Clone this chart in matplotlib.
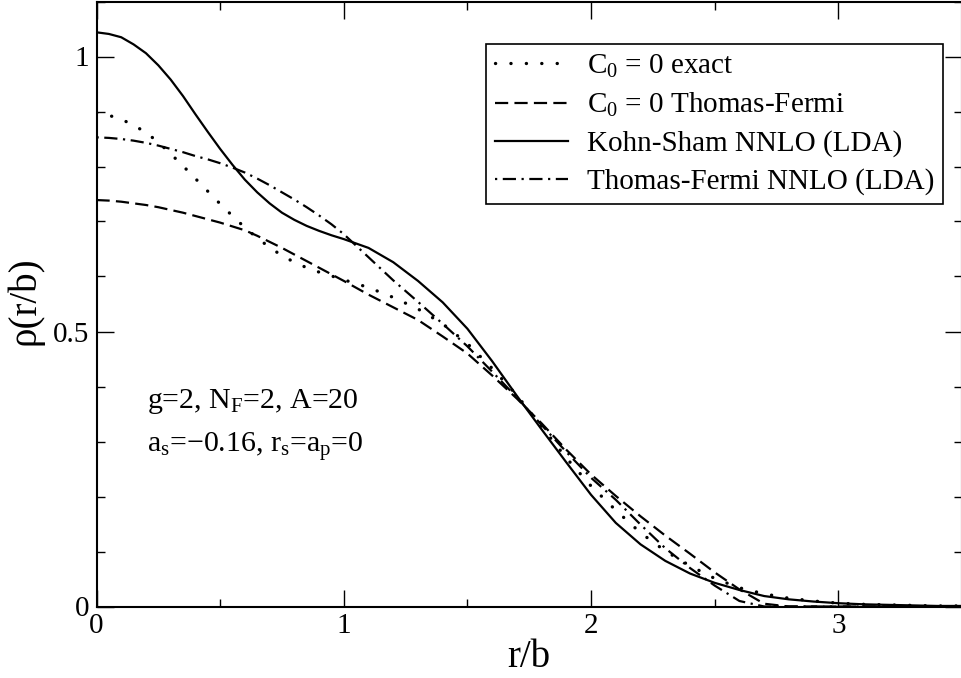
import matplotlib
matplotlib.use("Agg")
import matplotlib.pyplot as plt
from matplotlib.ticker import MultipleLocator

plt.rcParams["font.family"] = ["Liberation Serif", "DejaVu Serif"]
plt.rcParams["mathtext.fontset"] = "custom"
plt.rcParams["mathtext.rm"] = "Liberation Serif"
plt.rcParams["mathtext.it"] = "Liberation Serif:italic"
plt.rcParams["lines.scale_dashes"] = False

# radial coordinate r/b
r = [0.0, 0.05, 0.1, 0.15, 0.2, 0.25, 0.3, 0.35, 0.4, 0.45,
     0.5, 0.55, 0.6, 0.65, 0.7, 0.75, 0.8, 0.85, 0.9, 0.95,
     1.0, 1.1, 1.2, 1.3, 1.4, 1.5, 1.6, 1.7, 1.8, 1.9,
     2.0, 2.1, 2.2, 2.3, 2.4, 2.5, 2.6, 2.7, 2.8, 2.9,
     3.0, 3.1, 3.2, 3.3, 3.4, 3.5]

# density profiles rho(r/b)
rho_exact = [0.897, 0.893, 0.886, 0.875, 0.862, 0.844, 0.823, 0.801, 0.778, 0.755,
             0.732, 0.710, 0.689, 0.670, 0.653, 0.638, 0.626, 0.616, 0.608, 0.601,
             0.594, 0.580, 0.562, 0.541, 0.514, 0.478, 0.433, 0.384, 0.327, 0.270,
             0.219, 0.175, 0.134, 0.101, 0.074, 0.051, 0.034, 0.023, 0.015, 0.010,
             0.006, 0.004, 0.003, 0.002, 0.001, 0.001]
rho_tf_c0 = [0.739, 0.738, 0.736, 0.733, 0.730, 0.726, 0.721, 0.716, 0.710, 0.704,
             0.698, 0.691, 0.684, 0.674, 0.663, 0.652, 0.640, 0.628, 0.616, 0.604,
             0.592, 0.567, 0.544, 0.521, 0.491, 0.460, 0.420, 0.378, 0.333, 0.285,
             0.240, 0.201, 0.164, 0.129, 0.096, 0.062, 0.031, 0.005, 0.0, 0.0,
             0.0, 0.0, 0.0, 0.0, 0.0, 0.0]
rho_ks = [1.044, 1.041, 1.035, 1.022, 1.006, 0.984, 0.958, 0.928, 0.895, 0.863,
          0.832, 0.803, 0.776, 0.753, 0.733, 0.716, 0.703, 0.692, 0.683, 0.675,
          0.668, 0.652, 0.626, 0.592, 0.553, 0.505, 0.446, 0.383, 0.322, 0.262,
          0.203, 0.152, 0.113, 0.083, 0.060, 0.043, 0.030, 0.019, 0.013, 0.009,
          0.006, 0.004, 0.003, 0.002, 0.001, 0.001]
rho_tf_nnlo = [0.853, 0.852, 0.850, 0.847, 0.843, 0.838, 0.832, 0.826, 0.819, 0.813,
               0.806, 0.798, 0.789, 0.778, 0.766, 0.753, 0.740, 0.726, 0.711, 0.695,
               0.677, 0.635, 0.593, 0.554, 0.514, 0.473, 0.427, 0.380, 0.330, 0.281,
               0.234, 0.194, 0.149, 0.106, 0.070, 0.038, 0.010, 0.0, 0.0, 0.0,
               0.0, 0.0, 0.0, 0.0, 0.0, 0.0]

labels = [r"C$_{0}$ = 0 exact",
          r"C$_{0}$ = 0 Thomas-Fermi",
          "Kohn-Sham NNLO (LDA)",
          "Thomas-Fermi NNLO (LDA)"]

W, H = 961, 678
fig = plt.figure(figsize=(W / 100, H / 100), dpi=100)
x0, x1 = 96.5, 962.0
y0, y1 = 606.5, 1.5
ax = fig.add_axes([x0 / W, (H - y0) / H, (x1 - x0) / W, (y0 - y1) / H])

lw = 1.6
ax.plot(r, rho_exact, color="black", lw=2.4, linestyle=(0, (0.1, 11.0)),
        dash_capstyle="round", label=labels[0])
ax.plot(r, rho_tf_c0, color="black", lw=lw, linestyle=(0, (9.5, 4.5)),
        label=labels[1])
ax.plot(r, rho_ks, color="black", lw=lw, linestyle="-", label=labels[2])
ax.plot(r, rho_tf_nnlo, color="black", lw=lw,
        linestyle=(13.5, (9.5, 4.0, 1.6, 4.0)), label=labels[3])

ax.set_xlim(0, 3.5)
ax.set_ylim(0, 1.1)
ax.xaxis.set_minor_locator(MultipleLocator(0.5))
ax.yaxis.set_minor_locator(MultipleLocator(0.1))
ax.set_xticks([0, 1, 2, 3])
ax.set_xticklabels(["0", "1", "2", "3"])
ax.set_yticks([0, 0.5, 1])
ax.set_yticklabels(["0", "0.5", "1"])

ax.tick_params(which="both", direction="in", top=True, right=True,
               labelsize=21, width=1.0, color="black")
ax.tick_params(which="major", length=12, pad=5)
ax.tick_params(which="minor", length=6)
for s in ax.spines.values():
    s.set_linewidth(1.5)

ax.set_xlabel("r/b", fontsize=28, labelpad=0)
ax.set_ylabel("ρ(r/b)", fontsize=28)
ax.yaxis.set_label_coords(-0.061, 0.505)

leg = ax.legend(loc="upper right", bbox_to_anchor=(0.978, 0.93),
                fontsize=21, frameon=True, fancybox=False, framealpha=1,
                edgecolor="black", handlelength=2.5, handletextpad=0.65,
                labelspacing=0.38, borderpad=0.3, borderaxespad=0)
leg.get_frame().set_linewidth(1.2)

ax.text(147 / W, 1 - 408 / H, r"g=2, N$_{\mathrm{F}}$=2, A=20",
        transform=fig.transFigure, fontsize=21.5, ha="left", va="baseline")
ax.text(147 / W, 1 - 452 / H,
        r"a$_{\mathrm{s}}$=−0.16, r$_{\mathrm{s}}$=a$_{\mathrm{p}}$=0",
        transform=fig.transFigure, fontsize=21.5, ha="left", va="baseline")

fig.savefig("out.png", dpi=100)
